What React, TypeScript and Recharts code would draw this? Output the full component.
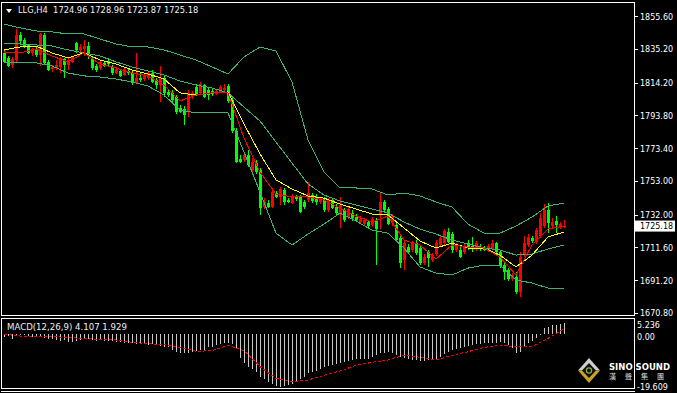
import React from 'react';
import { ComposedChart, Bar, Line, XAxis, YAxis } from 'recharts';

// LLG H4 candles, oldest first
const opens = [
  1833.0, 1829.9, 1825.5, 1828.6, 1844.2, 1841.1, 1838.0, 1833.0, 1834.9, 1831.7,
  1844.2, 1827.4, 1823.0, 1823.6, 1824.3, 1829.2, 1825.5, 1827.4, 1839.2, 1834.9,
  1835.5, 1837.3, 1829.2, 1824.9, 1823.6, 1826.8, 1828.0, 1824.3, 1820.5, 1821.8,
  1819.3, 1821.8, 1820.5, 1814.3, 1817.4, 1816.8, 1817.4, 1820.5, 1816.2, 1813.0,
  1817.4, 1808.7, 1808.1, 1805.6, 1798.7, 1798.1, 1796.2, 1805.6, 1811.8, 1808.1,
  1813.0, 1809.9, 1809.3, 1807.4, 1808.7, 1809.9, 1812.4, 1803.7, 1784.4, 1766.9,
  1766.3, 1769.4, 1760.1, 1764.5, 1760.1, 1737.0, 1739.5, 1737.0, 1745.8, 1743.3,
  1747.6, 1741.4, 1739.5, 1743.3, 1743.3, 1740.2, 1741.4, 1744.5, 1743.3, 1740.2,
  1741.4, 1735.2, 1741.4, 1737.0, 1732.1, 1735.2, 1730.8, 1733.3, 1730.8, 1727.7,
  1726.5, 1727.7, 1725.8, 1728.9, 1732.1, 1740.2, 1735.8, 1727.1, 1725.8, 1717.7,
  1704.0, 1712.1, 1710.3, 1714.6, 1711.5, 1702.2, 1709.0, 1704.0, 1707.8, 1713.4,
  1714.6, 1721.5, 1720.2, 1710.3, 1710.3, 1709.0, 1714.6, 1712.7, 1710.9, 1712.1,
  1711.5, 1710.3, 1710.9, 1714.6, 1709.0, 1700.9, 1697.8, 1692.2, 1693.4, 1684.1,
  1707.1, 1713.4, 1717.7, 1715.2, 1719.0, 1725.2, 1735.2, 1725.2, 1728.3, 1724.6,
  1724.96,
];
const highs = [
  1834.9, 1831.1, 1830.5, 1847.9, 1846.1, 1842.3, 1838.6, 1836.1, 1836.7, 1845.4,
  1845.4, 1828.6, 1825.5, 1828.6, 1830.5, 1829.9, 1830.5, 1831.1, 1839.8, 1838.6,
  1841.1, 1839.8, 1831.1, 1826.1, 1828.6, 1828.0, 1829.9, 1825.5, 1824.3, 1823.0,
  1823.6, 1823.0, 1821.8, 1833.0, 1820.5, 1819.9, 1821.8, 1822.4, 1817.4, 1824.9,
  1818.7, 1809.9, 1809.9, 1806.8, 1800.6, 1800.0, 1809.9, 1809.3, 1813.7, 1814.9,
  1813.7, 1811.2, 1810.6, 1810.6, 1813.0, 1813.7, 1813.7, 1805.0, 1786.3, 1769.4,
  1770.7, 1772.6, 1767.6, 1766.3, 1761.3, 1742.7, 1741.4, 1748.9, 1747.0, 1749.5,
  1748.9, 1742.7, 1745.1, 1744.5, 1744.5, 1741.4, 1752.6, 1745.8, 1745.1, 1742.7,
  1743.3, 1742.7, 1742.7, 1738.9, 1743.3, 1736.4, 1737.7, 1735.2, 1732.7, 1731.4,
  1730.2, 1728.9, 1730.8, 1730.2, 1745.8, 1741.4, 1737.0, 1732.7, 1727.7, 1719.6,
  1716.5, 1714.0, 1715.9, 1716.5, 1713.4, 1707.8, 1710.3, 1708.4, 1716.5, 1719.0,
  1723.3, 1724.0, 1721.5, 1714.6, 1712.1, 1714.0, 1716.5, 1718.4, 1715.9, 1714.0,
  1712.7, 1714.0, 1716.5, 1715.2, 1710.3, 1702.2, 1699.0, 1695.9, 1696.5, 1709.0,
  1719.0, 1720.2, 1719.0, 1724.0, 1733.3, 1738.9, 1739.5, 1730.2, 1731.4, 1727.7,
  1728.96,
];
const lows = [
  1826.8, 1824.3, 1823.6, 1827.4, 1838.0, 1836.1, 1832.4, 1831.1, 1830.5, 1824.9,
  1825.5, 1821.8, 1821.1, 1822.4, 1820.5, 1817.4, 1822.4, 1826.8, 1833.0, 1833.6,
  1831.1, 1829.2, 1822.4, 1821.1, 1822.4, 1824.3, 1824.3, 1819.3, 1819.9, 1818.0,
  1818.7, 1819.3, 1813.0, 1813.7, 1814.9, 1815.5, 1816.2, 1814.3, 1810.6, 1802.5,
  1805.6, 1805.6, 1801.8, 1795.0, 1795.6, 1788.1, 1793.1, 1804.3, 1806.2, 1806.8,
  1805.0, 1803.7, 1806.2, 1806.8, 1808.1, 1808.1, 1801.8, 1783.1, 1764.5, 1764.5,
  1765.1, 1762.0, 1758.8, 1757.6, 1732.1, 1735.8, 1736.4, 1736.4, 1742.7, 1738.3,
  1738.3, 1739.5, 1738.9, 1740.8, 1733.3, 1735.8, 1740.2, 1739.5, 1738.3, 1738.9,
  1733.9, 1733.9, 1735.8, 1732.1, 1724.0, 1727.7, 1729.6, 1728.3, 1727.7, 1726.5,
  1725.2, 1724.0, 1724.6, 1700.9, 1723.3, 1733.3, 1725.8, 1725.2, 1715.2, 1699.0,
  1697.8, 1707.8, 1709.0, 1707.1, 1700.9, 1700.9, 1699.7, 1702.8, 1706.5, 1712.1,
  1713.4, 1714.6, 1708.4, 1709.0, 1705.3, 1707.8, 1710.3, 1709.0, 1709.6, 1709.6,
  1709.6, 1709.0, 1710.3, 1707.1, 1699.0, 1691.6, 1690.9, 1690.9, 1682.8, 1681.0,
  1705.9, 1712.1, 1714.6, 1714.0, 1717.7, 1724.0, 1720.8, 1724.0, 1720.8, 1723.3,
  1723.87,
];
const closes = [
  1827.4, 1824.9, 1829.2, 1844.2, 1840.5, 1836.7, 1833.0, 1835.5, 1831.7, 1844.8,
  1826.8, 1822.4, 1824.3, 1825.5, 1829.9, 1825.5, 1828.6, 1830.5, 1834.9, 1836.7,
  1837.3, 1832.4, 1823.6, 1822.4, 1827.4, 1824.9, 1826.1, 1820.5, 1823.0, 1818.7,
  1823.0, 1820.5, 1814.3, 1817.4, 1816.2, 1818.7, 1820.5, 1814.9, 1813.0, 1817.4,
  1808.1, 1806.8, 1803.7, 1796.2, 1796.2, 1794.4, 1808.1, 1808.1, 1807.4, 1813.7,
  1805.6, 1806.8, 1807.4, 1809.3, 1811.8, 1811.2, 1803.1, 1784.4, 1765.1, 1765.1,
  1769.4, 1763.2, 1765.1, 1758.8, 1736.4, 1740.2, 1737.0, 1746.4, 1743.3, 1748.3,
  1740.2, 1740.2, 1743.9, 1742.0, 1733.9, 1737.0, 1745.8, 1740.8, 1740.2, 1741.4,
  1735.2, 1741.4, 1736.4, 1733.3, 1738.3, 1728.9, 1735.8, 1730.2, 1728.9, 1729.6,
  1728.9, 1725.2, 1729.6, 1723.3, 1740.2, 1735.2, 1726.5, 1730.8, 1716.5, 1702.2,
  1714.6, 1709.0, 1714.6, 1708.4, 1702.2, 1705.9, 1705.3, 1707.1, 1714.6, 1717.7,
  1722.1, 1715.2, 1710.3, 1713.4, 1705.9, 1712.7, 1711.5, 1710.9, 1714.6, 1710.9,
  1710.3, 1712.7, 1714.6, 1709.0, 1700.3, 1696.5, 1692.2, 1694.7, 1684.1, 1705.9,
  1714.6, 1718.4, 1715.9, 1722.7, 1730.2, 1735.2, 1727.1, 1727.7, 1725.8, 1726.5,
  1725.18,
];

// indicator lines, read every 4th bar
const lineIdx = [
  0, 4, 8, 12, 16, 20, 24, 28, 32, 36, 40, 44, 48, 52, 56, 60, 64, 68,
  72, 76, 80, 84, 88, 92, 96, 100, 104, 108, 112, 116, 120, 124, 128, 132, 136, 140,
];
const upperBand = [
  1851.0, 1848.6, 1846.7, 1846.1, 1844.8, 1844.8, 1841.7, 1838.6, 1836.7, 1836.7,
  1834.9, 1831.7, 1828.6, 1824.3, 1819.9, 1830.5, 1836.7, 1834.2, 1814.9, 1778.8,
  1758.8, 1748.9, 1748.9, 1748.3, 1744.5, 1745.8, 1743.9, 1740.2, 1737.0, 1726.4,
  1720.8, 1720.8, 1725.2, 1730.8, 1737.7, 1739.5,
];
const middleBand = [
  1839.2, 1838.6, 1838.0, 1837.3, 1834.9, 1833.0, 1831.1, 1827.4, 1824.3, 1821.8,
  1819.3, 1815.5, 1813.0, 1811.2, 1808.1, 1799.3, 1790.6, 1777.5, 1764.4, 1751.4,
  1744.5, 1740.8, 1738.3, 1735.8, 1733.3, 1727.7, 1723.3, 1720.2, 1716.5, 1714.0,
  1711.5, 1710.3, 1707.1, 1707.8, 1710.9, 1713.4,
];
const lowerBand = [
  1826.8, 1826.8, 1826.8, 1824.9, 1820.5, 1818.7, 1818.0, 1816.8, 1814.9, 1812.4,
  1806.8, 1797.5, 1795.6, 1795.6, 1795.6, 1771.3, 1746.4, 1720.8, 1713.4, 1720.2,
  1726.4, 1733.3, 1728.3, 1722.7, 1720.8, 1711.5, 1699.7, 1695.9, 1694.7, 1699.0,
  1700.9, 1700.9, 1691.6, 1689.7, 1686.6, 1686.0,
];
const slowMa = [
  1834.9, 1836.7, 1837.3, 1833.0, 1829.9, 1833.0, 1828.6, 1826.1, 1822.4, 1819.9,
  1816.8, 1808.1, 1806.8, 1808.1, 1808.7, 1788.7, 1770.1, 1753.9, 1748.3, 1743.9,
  1742.6, 1738.9, 1735.8, 1732.7, 1732.1, 1724.0, 1715.9, 1711.5, 1714.6, 1711.5,
  1711.5, 1707.1, 1699.7, 1707.1, 1718.4, 1721.5,
];
const fastMa = [
  1833.6, 1833.0, 1835.5, 1831.1, 1827.4, 1833.0, 1826.1, 1823.6, 1820.5, 1818.7,
  1813.0, 1803.1, 1806.8, 1808.1, 1808.1, 1780.0, 1758.8, 1745.1, 1743.3, 1743.3,
  1741.4, 1736.4, 1731.4, 1727.7, 1731.4, 1716.5, 1713.4, 1704.6, 1713.4, 1712.1,
  1711.5, 1705.9, 1694.7, 1713.4, 1723.3, 1725.2,
];

// MACD(12,26,9)
const macdHist = [
  -0.95, -0.7, -1.94, -0.33, -0.2, -0.46, -0.7, -0.95, -0.7, -0.95,
  -1.57, -1.94, -1.94, -2.19, -2.43, -2.19, -2.81, -2.81, -2.43, -2.19,
  -1.94, -1.94, -2.19, -2.43, -2.19, -2.43, -2.43, -2.43, -2.81, -3.05,
  -3.18, -3.42, -3.42, -3.67, -3.79, -3.79, -4.04, -3.79, -4.04, -4.41,
  -4.66, -4.91, -5.9, -6.51, -6.88, -7.13, -6.88, -6.51, -6.14, -5.9,
  -5.9, -4.91, -4.66, -4.04, -3.79, -3.42, -3.18, -3.67, -5.28, -8.98,
  -10.84, -12.08, -13.06, -13.93, -15.78, -16.77, -17.64, -18.5, -19.2, -19.609,
  -19.4, -18.9, -18.5, -17.8, -16.8, -15.8, -14.55, -13.93, -13.56, -13.06,
  -12.32, -11.83, -11.46, -11.09, -10.59, -10.22, -9.85, -9.6, -9.36, -9.11,
  -9.36, -9.36, -8.61, -7.75, -7.13, -6.88, -6.51, -7.13, -7.75, -8.37,
  -8.98, -9.36, -9.6, -9.6, -9.85, -9.85, -9.6, -9.6, -9.36, -8.37,
  -7.38, -6.51, -5.9, -5.65, -5.28, -4.91, -4.41, -4.04, -3.79, -3.67,
  -3.42, -3.42, -3.42, -3.18, -2.93, -3.18, -4.04, -5.28, -7.13, -6.51,
  -4.66, -3.42, -2.43, -1.57, -0.3, 2.1, 2.8, 3.4, 3.4, 3.7,
  4.107,
];
const macdSignal = [
  0.0, -0.7, -0.83, -0.95, -1.2, -1.69, -1.94, -2.19, -3.05, -3.55,
  -3.92, -4.91, -6.39, -6.14, -4.16, -6.14, -12.08, -16.4, -17.76, -17.02,
  -15.29, -13.68, -11.58, -10.47, -9.6, -7.75, -8.61, -9.6, -7.87, -6.51,
  -4.91, -4.16, -4.66, -4.66, -1.57, 1.929,
];

const priceTicks = [1855.6, 1835.2, 1814.2, 1793.8, 1773.4, 1753.0, 1732.0, 1711.6, 1691.2, 1670.8];
const macdTicks = [5.236, 0, -19.609];
const slots = 158; // bars plus the empty shift on the right

const lastClose = closes[closes.length - 1];
const lastBar = closes.length - 1;

const rows: any[] = Array.from({ length: slots }, (_, i) => {
  const has = i < closes.length;
  return {
    i,
    range: has ? [lows[i], highs[i]] : null,
    o: has ? opens[i] : null,
    h: has ? highs[i] : null,
    l: has ? lows[i] : null,
    c: has ? closes[i] : null,
    macd: has ? macdHist[i] : null,
  };
});
lineIdx.forEach((idx, k) => {
  Object.assign(rows[idx], {
    upper: upperBand[k],
    middle: middleBand[k],
    lower: lowerBand[k],
    slow: slowMa[k],
    fast: fastMa[k],
    signal: macdSignal[k],
  });
});

const font = 'DejaVu Sans, sans-serif';
const bandColor = '#3cb371';

const Candle = (props: any) => {
  const { x, y, width, height, payload } = props;
  if (!payload || payload.o == null || y == null || isNaN(y)) return null;
  const { o, h, l, c } = payload;
  const top = Math.min(y, y + height);
  const span = Math.abs(height);
  const k = h === l ? 0 : span / (h - l);
  const bodyTop = top + (h - Math.max(o, c)) * k;
  const bodyH = Math.max(1, Math.abs(o - c) * k);
  const cx = Math.floor(x + width / 2);
  const color = c >= o ? '#ff0000' : '#00ff00';
  return (
    <g shapeRendering="crispEdges">
      <rect x={cx} y={top} width={1} height={Math.max(1, span)} fill={color} />
      <rect x={cx - 1} y={bodyTop} width={3} height={bodyH} fill={color} />
    </g>
  );
};

const HistBar = (props: any) => {
  const { x, y, width, height } = props;
  if (y == null || isNaN(y) || height == null) return null;
  const cx = Math.floor(x + width / 2);
  const top = Math.min(y, y + height);
  return (
    <rect x={cx} y={top} width={1} height={Math.max(1, Math.abs(height))} fill="#c8c8c8" shapeRendering="crispEdges" />
  );
};

const PriceTick = (props: any) => {
  const { x, y, payload } = props;
  const v = payload.value;
  const isLast = v === lastClose;
  return (
    <g>
      {isLast ? (
        <rect x={x - 5} y={y - 5.5} width={40} height={11} fill="#ffffff" />
      ) : (
        <line x1={x - 6} x2={x - 2} y1={y} y2={y} stroke="#ffffff" shapeRendering="crispEdges" />
      )}
      <text x={x} y={y + 3} fill={isLast ? '#000000' : '#ffffff'} fontSize={8} fontFamily={font}>
        {v.toFixed(2)}
      </text>
    </g>
  );
};

const MacdTick = (props: any) => {
  const { x, y, payload, index } = props;
  const v = payload.value;
  const dy = index === 0 ? 8 : index === 1 ? 6 : 3;
  return (
    <text x={x - 3} y={y + dy} fill="#ffffff" fontSize={8} fontFamily={font}>
      {v === 0 ? '0.00' : String(v)}
    </text>
  );
};

const lineProps = {
  strokeWidth: 1,
  dot: false,
  connectNulls: true,
  isAnimationActive: false,
  shapeRendering: 'crispEdges',
} as any;

export default function App() {
  const header = `${'LLG,H4'}  ${opens[lastBar]} ${highs[lastBar]} ${lows[lastBar]} ${closes[lastBar]}`;
  return (
    <div
      style={{
        position: 'fixed',
        left: 0,
        top: 0,
        width: 677,
        height: 393,
        background: '#000000',
        overflow: 'hidden',
      }}
    >
      <div style={{ position: 'absolute', left: 0, top: 0 }}>
        <ComposedChart width={677} height={318} data={rows} margin={{ top: 3, right: 0, bottom: 3, left: 2 }}>
          <XAxis dataKey="i" hide />
          <YAxis
            orientation="right"
            width={43}
            domain={[1669.8, 1864.1]}
            allowDataOverflow
            ticks={[...priceTicks, lastClose]}
            interval={0}
            tickSize={4}
            tickMargin={2}
            axisLine={false}
            tickLine={false}
            tick={<PriceTick />}
          />
          <Line dataKey="upper" stroke={bandColor} {...lineProps} />
          <Line dataKey="middle" stroke={bandColor} {...lineProps} />
          <Line dataKey="lower" stroke={bandColor} {...lineProps} />
          <Bar dataKey="range" barSize={3} shape={<Candle />} isAnimationActive={false} />
          <Line dataKey="slow" stroke="#ffff00" {...lineProps} />
          <Line dataKey="fast" stroke="#ff0000" {...lineProps} />
        </ComposedChart>
      </div>

      <div style={{ position: 'absolute', left: 0, top: 316 }}>
        <ComposedChart width={677} height={77} data={rows} margin={{ top: 4, right: 0, bottom: 6, left: 2 }}>
          <XAxis dataKey="i" hide />
          <YAxis
            orientation="right"
            width={43}
            domain={[-19.609, 5.236]}
            allowDataOverflow
            ticks={macdTicks}
            interval={0}
            tickSize={4}
            tickMargin={2}
            axisLine={false}
            tickLine={false}
            tick={<MacdTick />}
          />
          <Bar dataKey="macd" barSize={1} shape={<HistBar />} isAnimationActive={false} />
          <Line dataKey="signal" stroke="#ff0000" strokeDasharray="3 2" {...lineProps} />
        </ComposedChart>
      </div>

      <svg width={677} height={393} style={{ position: 'absolute', left: 0, top: 0, pointerEvents: 'none' }}>
        <g fill="none" stroke="#ffffff" shapeRendering="crispEdges">
          <rect x={1.5} y={2.5} width={633} height={313} />
          <rect x={1.5} y={318.5} width={633} height={70} />
          <line x1={1} x2={635} y1={391.5} y2={391.5} />
        </g>
        <polygon points="6,9 12,9 9,13" fill="#ffffff" />
        <text x={18} y={13} fill="#f0f0f0" fontSize={8.3} fontFamily={font} style={{ whiteSpace: 'pre' }}>
          {header}
        </text>
        <text x={7} y={330} fill="#f0f0f0" fontSize={8.6} fontFamily={font}>
          {`MACD(12,26,9) ${macdHist[lastBar]} ${macdSignal[macdSignal.length - 1]}`}
        </text>
        <g>
          <polygon points="589,358 600,370.5 578,370.5" fill="#cfcfcf" />
          <polygon points="578,370.5 600,370.5 589,383" fill="#c9a227" />
          <polygon points="589,363 596,370.5 589,378 582,370.5" fill="#111111" />
          <circle cx={589} cy={370.5} r={2.6} fill="none" stroke="#7fb03a" strokeWidth={1.2} />
        </g>
        <text x={609} y={370} fill="#ffffff" fontSize={8.5} fontWeight="bold" fontFamily={font}>
          SINO SOUND
        </text>
        <text x={609} y={378.5} fill="#e0e0e0" fontSize={7} letterSpacing={9} fontFamily="Noto Sans CJK TC">
          漢聲集團
        </text>
      </svg>
    </div>
  );
}
